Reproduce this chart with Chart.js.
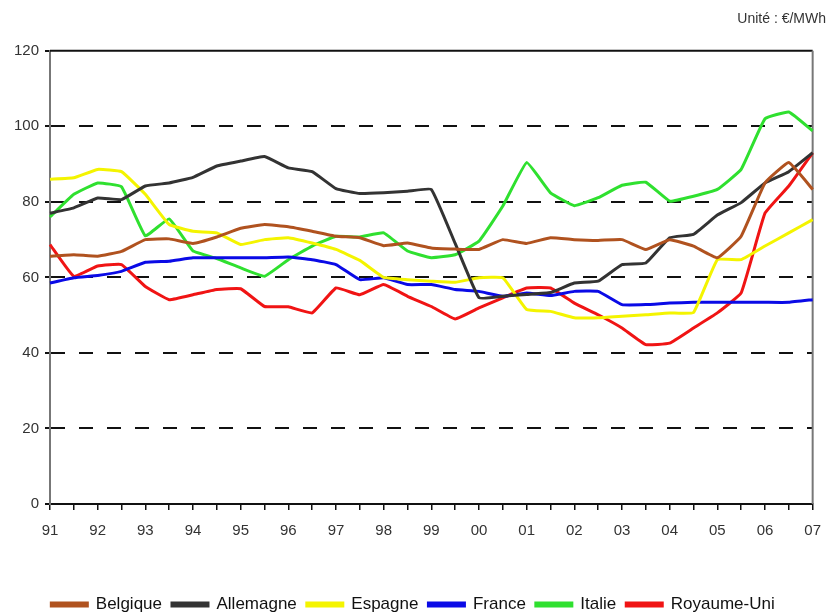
<!DOCTYPE html>
<html>
<head>
<meta charset="utf-8">
<script src="https://cdn.jsdelivr.net/npm/chart.js@4"></script>
<style>
  body { margin: 0; background: #fff; }
  #wrap { width: 833px; height: 614px; }
</style>
</head>
<body>
<div id="wrap"><canvas id="prixChart" width="833" height="614"></canvas></div>
<script>
// semestres 1991 -> 2007
const xLabels = ["91","","92","","93","","94","","95","","96","","97","","98","","99","","00","","01","","02","","03","","04","","05","","06","","07"];

const belgique   = [65.6, 66, 65.6, 66.9, 70, 70.2, 69, 70.7, 73, 74, 73.4, 72.2, 70.9, 70.5, 68.4, 69.1, 67.8, 67.5, 67.4, 70, 69, 70.5, 70, 69.8, 70, 67.4, 70, 68.3, 65.2, 70.9, 85, 90.4, 83.3];
const allemagne  = [77, 78.4, 81, 80.6, 84.2, 85, 86.5, 89.5, 90.8, 92, 89, 88, 83.5, 82.2, 82.4, 82.8, 83.3, 69, 54.6, 55, 55.5, 56, 58.5, 59, 63.4, 63.8, 70.5, 71.4, 76.5, 79.8, 85, 88, 93];
const espagne    = [86, 86.4, 88.6, 88, 82, 74, 72.2, 71.8, 68.7, 70, 70.5, 69.1, 67.4, 64.5, 60, 59.4, 59, 58.7, 59.9, 59.9, 51.5, 51, 49.3, 49.3, 49.7, 50.1, 50.6, 50.7, 64.7, 64.7, 68.3, 71.8, 75.3];
const france     = [58.5, 59.9, 60.5, 61.6, 64, 64.3, 65.2, 65.2, 65.2, 65.2, 65.4, 64.7, 63.4, 59.4, 59.9, 58.1, 58.1, 56.8, 56.3, 55, 55.9, 55.2, 56.3, 56.3, 52.8, 52.8, 53.2, 53.4, 53.4, 53.4, 53.4, 53.4, 54.1];
const italie     = [76, 82, 85, 84, 71, 75.5, 67, 65, 62.5, 60.3, 64.7, 68.3, 70.9, 70.7, 71.8, 67, 65.2, 66, 69.6, 78.9, 90.4, 82.4, 79, 81.1, 84.4, 85.2, 80.2, 81.5, 83.3, 88.6, 102, 103.8, 98.8];
const royaumeUni = [68.7, 60.3, 63, 63.4, 57.6, 54.1, 55.4, 56.8, 57, 52.3, 52.2, 50.6, 57.2, 55.4, 58.1, 55, 52.3, 49, 51.9, 54.6, 57.2, 57.2, 53.2, 50.1, 46.6, 42.2, 42.6, 46.6, 50.6, 55.9, 77, 84.2, 93];

const FONT = "'Liberation Sans', Arial, sans-serif";

function serie(label, data, color) {
  return {
    label,
    data,
    borderColor: color,
    backgroundColor: color,
    borderWidth: 3,
    pointRadius: 0,
    tension: 0.1,
  };
}

// cadre haut (noir) et droit (gris)
const cadre = {
  id: "cadre",
  beforeDatasetsDraw(chart) {
    const { ctx, chartArea: a } = chart;
    ctx.save();
    ctx.lineWidth = 2;
    ctx.strokeStyle = "#111";
    ctx.beginPath();
    ctx.moveTo(a.left, a.top);
    ctx.lineTo(a.right, a.top);
    ctx.stroke();
    ctx.strokeStyle = "#777";
    ctx.beginPath();
    ctx.moveTo(a.right, a.top);
    ctx.lineTo(a.right, a.bottom);
    ctx.stroke();
    ctx.restore();
  },
};

const ctx = document.getElementById("prixChart").getContext("2d");
new Chart(ctx, {
  type: "line",
  data: {
    labels: xLabels,
    datasets: [
      serie("Belgique", belgique, "#b0521f"),
      serie("Allemagne", allemagne, "#333333"),
      serie("Espagne", espagne, "#f4f400"),
      serie("France", france, "#0a0ae6"),
      serie("Italie", italie, "#2fe02f"),
      serie("Royaume-Uni", royaumeUni, "#f01414"),
    ],
  },
  plugins: [cadre],
  options: {
    responsive: false,
    animation: false,
    layout: { padding: { left: 0, right: 7, top: 0, bottom: -9 } },
    plugins: {
      title: {
        display: true,
        text: "Unité : €/MWh",
        align: "end",
        color: "#333",
        font: { family: FONT, size: 14, weight: "normal" },
        padding: { top: 11, bottom: 23 },
      },
      legend: {
        position: "bottom",
        labels: {
          boxWidth: 36,
          boxHeight: 3,
          padding: 10,
          color: "#111",
          font: { family: FONT, size: 17 },
        },
      },
      tooltip: { enabled: false },
    },
    scales: {
      x: {
        afterFit(scale) { scale.height = 82; },
        border: { color: "#111", width: 2 },
        grid: {
          drawOnChartArea: false,
          drawTicks: true,
          tickLength: 6,
          tickColor: "#111",
          lineWidth: 1.5,
        },
        ticks: {
          autoSkip: false,
          maxRotation: 0,
          padding: 12,
          color: "#333",
          font: { family: FONT, size: 15 },
        },
      },
      y: {
        min: 0,
        max: 120,
        afterFit(scale) { scale.width = 50; },
        border: { color: "#777", width: 2, dash: [14, 14] },
        grid: {
          color: (c) => (c.tick && (c.tick.value === 0 || c.tick.value === 120)) ? "rgba(0,0,0,0)" : "#111",
          tickColor: "#111",
          lineWidth: 2,
          tickLength: 5,
        },
        ticks: {
          stepSize: 20,
          padding: 6,
          color: "#333",
          font: { family: FONT, size: 15 },
        },
      },
    },
  },
});
</script>
</body>
</html>
